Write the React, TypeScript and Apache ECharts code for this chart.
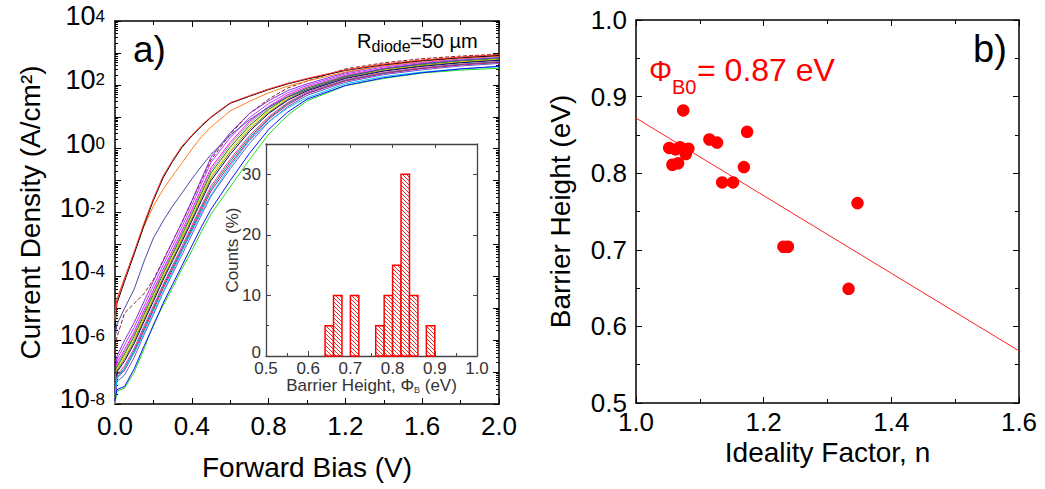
import React, { useEffect, useRef } from 'react';
import * as echarts from 'echarts';

const FONT = '"Liberation Sans", Arial, Helvetica, sans-serif';

// ---------- Panel a: J-V curves (log10 of J in A/cm^2 at each bias) ----------
const biasV = [0, 0.01, 0.05, 0.1, 0.15, 0.2, 0.25, 0.3, 0.35, 0.4, 0.45, 0.5, 0.6, 0.7, 0.8, 0.9, 1.0, 1.2, 1.4, 1.6, 1.8, 2.0];

const logJRed = [-5.4, -4.75, -4.07, -3.23, -2.35, -1.56, -0.86, -0.36, 0.09, 0.42, 0.73, 1.0, 1.44, 1.66, 1.87, 2.05, 2.2, 2.47, 2.65, 2.78, 2.87, 2.95];
const logJBlack = [-5.6, -4.85, -4.15, -3.3, -2.42, -1.62, -0.92, -0.4, 0.05, 0.4, 0.7, 0.98, 1.42, 1.64, 1.85, 2.03, 2.18, 2.45, 2.63, 2.76, 2.85, 2.92];
const logJOrange = [-5.3, -4.7, -4.05, -3.25, -2.45, -1.8, -1.28, -0.85, -0.44, -0.02, 0.37, 0.68, 1.18, 1.48, 1.75, 1.96, 2.12, 2.4, 2.6, 2.73, 2.83, 2.9];
const logJSlate = [-6.0, -5.5, -5.0, -4.4, -3.55, -2.8, -2.27, -1.8, -1.38, -0.95, -0.55, -0.18, 0.42, 0.9, 1.3, 1.62, 1.85, 2.25, 2.5, 2.66, 2.77, 2.85];
const logJBrown = [-6.4, -5.9, -5.15, -4.85, -4.55, -4.1, -3.5, -2.9, -2.3, -1.65, -1.0, -0.35, 0.45, 1.1, 1.55, 1.9, 2.12, 2.5, 2.69, 2.82, 2.9, 2.96];
const logJPurple = [-8.0, -6.5, -6.0, -5.45, -4.8, -4.15, -3.53, -2.91, -2.29, -1.63, -0.95, -0.27, 0.5, 1.1, 1.5, 1.82, 2.03, 2.38, 2.6, 2.74, 2.84, 2.92];
const logJViolet = [-7.6, -6.6, -6.15, -5.6, -4.95, -4.3, -3.66, -3.05, -2.43, -1.77, -1.1, -0.43, 0.35, 0.97, 1.41, 1.75, 1.98, 2.34, 2.56, 2.7, 2.81, 2.89];
const logJMagenta = [-8.0, -6.7, -6.3, -5.74, -5.08, -4.43, -3.79, -3.18, -2.56, -1.91, -1.25, -0.6, 0.2, 0.85, 1.32, 1.69, 1.93, 2.3, 2.52, 2.67, 2.77, 2.85];
const logJGray = [-7.4, -6.8, -6.36, -5.81, -5.15, -4.5, -3.86, -3.25, -2.63, -1.98, -1.33, -0.68, 0.13, 0.79, 1.28, 1.65, 1.91, 2.28, 2.5, 2.65, 2.76, 2.84];
const logJDarkGreen = [-7.5, -6.85, -6.43, -5.88, -5.22, -4.57, -3.93, -3.31, -2.7, -2.06, -1.4, -0.76, 0.05, 0.72, 1.23, 1.62, 1.89, 2.26, 2.49, 2.63, 2.74, 2.82];
const logJYellow = [-7.8, -6.9, -6.5, -5.96, -5.29, -4.64, -4.0, -3.38, -2.77, -2.13, -1.48, -0.84, -0.03, 0.66, 1.19, 1.59, 1.86, 2.24, 2.47, 2.61, 2.72, 2.8];
const logJOlive = [-8.0, -6.95, -6.58, -6.03, -5.36, -4.71, -4.06, -3.45, -2.83, -2.2, -1.55, -0.92, -0.1, 0.6, 1.14, 1.55, 1.84, 2.22, 2.45, 2.6, 2.7, 2.78];
const logJNavy = [-7.7, -7.0, -6.65, -6.1, -5.43, -4.78, -4.12, -3.51, -2.9, -2.27, -1.63, -1.0, -0.18, 0.54, 1.1, 1.52, 1.81, 2.2, 2.43, 2.58, 2.69, 2.77];
const logJPink = [-8.0, -7.1, -6.8, -6.25, -5.57, -4.92, -4.26, -3.65, -3.04, -2.41, -1.78, -1.17, -0.33, 0.41, 1.0, 1.45, 1.77, 2.16, 2.39, 2.54, 2.65, 2.73];
const logJTeal = [-7.9, -7.15, -6.87, -6.32, -5.64, -4.99, -4.32, -3.71, -3.11, -2.48, -1.85, -1.25, -0.4, 0.35, 0.96, 1.42, 1.74, 2.14, 2.37, 2.52, 2.64, 2.72];
const logJDeepPink = [-7.6, -7.2, -6.94, -6.39, -5.71, -5.06, -4.39, -3.78, -3.17, -2.55, -1.93, -1.33, -0.48, 0.29, 0.92, 1.38, 1.72, 2.12, 2.35, 2.51, 2.62, 2.7];
const logJSlateViolet = [-8.0, -7.3, -7.09, -6.54, -5.85, -5.2, -4.52, -3.92, -3.31, -2.7, -2.08, -1.49, -0.63, 0.16, 0.83, 1.32, 1.67, 2.08, 2.32, 2.47, 2.59, 2.67];
const logJCyan = [-7.7, -7.2, -6.9, -6.4, -5.8, -5.15, -4.5, -3.85, -3.2, -2.6, -2.0, -1.45, -0.55, 0.25, 0.85, 1.28, 1.6, 2.03, 2.26, 2.4, 2.5, 2.57];
const logJGreen = [-8.0, -7.6, -7.5, -7.0, -6.3, -5.5, -4.92, -4.35, -3.75, -3.2, -2.6, -2.05, -1.2, -0.35, 0.45, 1.05, 1.5, 1.97, 2.2, 2.37, 2.46, 2.52];
const logJBlue = [-7.9, -7.55, -7.45, -6.9, -6.2, -5.55, -4.85, -4.25, -3.65, -3.05, -2.45, -1.9, -1.0, -0.15, 0.6, 1.15, 1.55, 1.98, 2.22, 2.38, 2.5, 2.58];

const curveList = [
  { name: 'D01', color: '#8c1c1c', values: logJBrown, dashed: true },
  { name: 'D02', color: '#8a2be2', values: logJPurple },
  { name: 'D03', color: '#b040ff', values: logJViolet },
  { name: 'D04', color: '#ff00ff', values: logJMagenta },
  { name: 'D05', color: '#9a9a9a', values: logJGray },
  { name: 'D06', color: '#1a7a1a', values: logJDarkGreen },
  { name: 'D07', color: '#e8dc00', values: logJYellow },
  { name: 'D08', color: '#8a8a00', values: logJOlive },
  { name: 'D09', color: '#000080', values: logJNavy },
  { name: 'D10', color: '#ff3c9a', values: logJPink },
  { name: 'D11', color: '#008b8b', values: logJTeal },
  { name: 'D12', color: '#d0107a', values: logJDeepPink },
  { name: 'D13', color: '#6a5acd', values: logJSlateViolet },
  { name: 'D14', color: '#00c8ff', values: logJCyan },
  { name: 'D15', color: '#22dd22', values: logJGreen },
  { name: 'D16', color: '#1010ff', values: logJBlue },
  { name: 'D17', color: '#4a4aa8', values: logJSlate },
  { name: 'D18', color: '#ff7f1e', values: logJOrange },
  { name: 'D19', color: '#000000', values: logJBlack },
  { name: 'D20', color: '#ff3030', values: logJRed },
];

// ---------- Inset histogram ----------
const binStarts = [0.64, 0.66, 0.70, 0.76, 0.78, 0.80, 0.82, 0.84, 0.88];
const binCounts = [5, 10, 10, 5, 10, 15, 30, 10, 5];
const binWidth = 0.02;

// ---------- Panel b ----------
const idealityN = [1.052, 1.057, 1.066, 1.069, 1.074, 1.062, 1.078, 1.082, 1.115, 1.127, 1.174, 1.169, 1.135, 1.152, 1.347, 1.231, 1.238, 1.333];
const barrierEv = [0.833, 0.811, 0.813, 0.834, 0.882, 0.831, 0.825, 0.832, 0.844, 0.840, 0.854, 0.808, 0.788, 0.788, 0.761, 0.704, 0.704, 0.649];
const fitN = [1.0, 1.6];
const fitPhi = [0.872, 0.568];

// sub-decade multipliers for the log-axis minor ticks
const subDecadeMultipliers = [2, 3, 4, 5, 6, 7, 8, 9];

export default function App() {
  const ref = useRef<HTMLDivElement>(null);

  useEffect(() => {
    if (!ref.current) return;
    const chart = echarts.init(ref.current, undefined, { renderer: 'svg' });

    // hatch pattern for histogram bars
    const tile = document.createElement('canvas');
    tile.width = 4;
    tile.height = 4;
    const ctx = tile.getContext('2d')!;
    ctx.fillStyle = '#ffffff';
    ctx.fillRect(0, 0, 4, 4);
    ctx.strokeStyle = 'rgba(255,30,30,0.95)';
    ctx.lineWidth = 1;
    for (const k of [-4, 0, 4]) {
      ctx.beginPath();
      ctx.moveTo(k, 0);
      ctx.lineTo(k + 4, 4);
      ctx.stroke();
    }
    const hatch = { image: tile.toDataURL(), imageWidth: 4, imageHeight: 4, repeat: 'repeat' };

    const minorDecades: number[] = [];
    for (let d = -8; d < 4; d++) {
      for (const m of subDecadeMultipliers) minorDecades.push(d + Math.log10(m));
    }

    const blackLine = { show: true, onZero: false, lineStyle: { color: '#000', width: 1.5 } };
    const grayLine = { show: true, onZero: false, lineStyle: { color: '#444', width: 1.3 } };
    const noLine = { show: false, onZero: false };
    const tick = (len: number, color = '#000', custom?: number[]) => ({
      show: true, inside: true, length: len, lineStyle: { color, width: 1 },
      ...(custom ? { customValues: custom } : {}),
    });
    const minor = (len: number, color = '#000') => ({ show: true, splitNumber: 2, length: len, lineStyle: { color, width: 1 } });
    const bigLabel = { fontSize: 26, color: '#000', fontFamily: FONT, formatter: (v: number) => v.toFixed(1) };
    const smallLabel = { fontSize: 17, color: '#333', fontFamily: FONT };
    const nameStyle = { fontSize: 28, color: '#000', fontFamily: FONT };

    const decadeLabel = {
      margin: 10, color: '#000', fontFamily: FONT,
      formatter: (v: number) => {
        const e = Math.round(v);
        return e % 2 === 0 ? `{b|10}{e|${e}}` : '';
      },
      rich: {
        b: { fontSize: 27, lineHeight: 27, fontFamily: FONT, color: '#000', verticalAlign: 'bottom', padding: [0, 0, 5, 0] },
        e: { fontSize: 17, lineHeight: 17, fontFamily: FONT, color: '#000', verticalAlign: 'top', padding: [0, 0, 24, 0] },
      },
    };

    const option: any = {
      animation: false,
      backgroundColor: '#ffffff',
      grid: [
        { left: 115, top: 21, width: 384, height: 383, containLabel: false, outerBoundsMode: 'none' },
        { left: 266, top: 144, width: 211, height: 212, containLabel: false, outerBoundsMode: 'none', show: true, backgroundColor: '#ffffff', borderWidth: 0, z: 5 },
        { left: 636, top: 20, width: 383, height: 383, containLabel: false, outerBoundsMode: 'none' },
      ],
      xAxis: [
        {
          type: 'value', gridIndex: 0, position: 'bottom', min: 0, max: 2, interval: 0.4,
          axisLine: blackLine, axisTick: tick(6), minorTick: minor(4), splitLine: { show: false },
          axisLabel: { ...bigLabel, margin: 9 },
          name: 'Forward Bias (V)', nameLocation: 'middle', nameGap: 49, nameMoveOverlap: false, nameTextStyle: nameStyle,
        },
        {
          type: 'value', gridIndex: 0, position: 'top', min: 0, max: 2, interval: 0.4,
          axisLine: blackLine, axisTick: tick(6), minorTick: minor(4), splitLine: { show: false },
          axisLabel: { show: false },
        },
        {
          type: 'value', gridIndex: 1, position: 'bottom', min: 0.5, max: 1.0, interval: 0.1, z: 6,
          axisLine: grayLine, axisTick: tick(5, '#444'), minorTick: minor(3, '#444'), splitLine: { show: false },
          axisLabel: { ...smallLabel, margin: 4, formatter: (v: number) => v.toFixed(1) },
          name: '{a|Barrier Height, Φ}{s|B}{a| (eV)}', nameLocation: 'middle', nameGap: 21, nameMoveOverlap: false,
          nameTextStyle: {
            ...smallLabel,
            rich: {
              a: { fontSize: 17, color: '#333', fontFamily: FONT, lineHeight: 17 },
              s: { fontSize: 9, color: '#333', fontFamily: FONT, lineHeight: 9, padding: [8, 0, 0, 0], verticalAlign: 'bottom' },
            },
          },
        },
        {
          type: 'value', gridIndex: 1, position: 'top', min: 0.5, max: 1.0, interval: 0.1, z: 6,
          axisLine: grayLine, axisTick: tick(4, '#444'), splitLine: { show: false }, axisLabel: { show: false },
        },
        {
          type: 'value', gridIndex: 2, position: 'bottom', min: 1.0, max: 1.6, interval: 0.2,
          axisLine: blackLine, axisTick: tick(6), minorTick: minor(4), splitLine: { show: false },
          axisLabel: { ...bigLabel, margin: 6 },
          name: 'Ideality Factor, n', nameLocation: 'middle', nameGap: 35, nameMoveOverlap: false, nameTextStyle: nameStyle,
        },
        {
          type: 'value', gridIndex: 2, position: 'top', min: 1.0, max: 1.6, interval: 0.2,
          axisLine: blackLine, axisTick: tick(6), minorTick: minor(4), splitLine: { show: false },
          axisLabel: { show: false },
        },
      ],
      yAxis: [
        // 0: log axis that carries the J-V data
        {
          type: 'log', logBase: 10, gridIndex: 0, position: 'left', min: 1e-8, max: 1e4,
          axisLine: blackLine, axisTick: { show: false }, axisLabel: { show: false }, splitLine: { show: false },
        },
        // 1: decade ticks + labels (exponent scale of the same axis)
        {
          type: 'value', gridIndex: 0, position: 'left', min: -8, max: 4, interval: 1,
          axisLine: noLine, axisTick: tick(6), splitLine: { show: false },
          axisLabel: decadeLabel,
          name: 'Current Density (A/cm²)', nameLocation: 'middle', nameRotate: 90, nameGap: 71, nameMoveOverlap: false, nameTextStyle: nameStyle,
        },
        // 2: sub-decade ticks
        {
          type: 'value', gridIndex: 0, position: 'left', min: -8, max: 4,
          axisLine: noLine, axisTick: tick(3, '#000', minorDecades), axisLabel: { show: false }, splitLine: { show: false },
        },
        // 3-4: right mirror
        {
          type: 'value', gridIndex: 0, position: 'right', min: -8, max: 4, interval: 1,
          axisLine: blackLine, axisTick: tick(6), axisLabel: { show: false }, splitLine: { show: false },
        },
        {
          type: 'value', gridIndex: 0, position: 'right', min: -8, max: 4,
          axisLine: noLine, axisTick: tick(3, '#000', minorDecades), axisLabel: { show: false }, splitLine: { show: false },
        },
        // 5-7: inset
        {
          type: 'value', gridIndex: 1, position: 'left', min: 0, max: 35, interval: 10, z: 6,
          axisLine: grayLine, axisTick: tick(5, '#444', [0, 10, 20, 30]), splitLine: { show: false },
          axisLabel: {
            ...smallLabel, margin: 5, showMaxLabel: false,
            formatter: (v: number) => (v > 30 ? '' : v === 0 ? '{z|0}' : String(v)),
            rich: { z: { fontSize: 17, color: '#333', fontFamily: FONT, padding: [0, 0, 8, 0] } },
          },
          name: 'Counts (%)', nameLocation: 'middle', nameRotate: 90, nameGap: 25, nameMoveOverlap: false,
          nameTextStyle: { ...smallLabel },
        },
        {
          type: 'value', gridIndex: 1, position: 'left', min: 0, max: 35, z: 6,
          axisLine: noLine, axisTick: tick(3, '#444', [5, 15, 25]), splitLine: { show: false }, axisLabel: { show: false },
        },
        {
          type: 'value', gridIndex: 1, position: 'right', min: 0, max: 35, z: 6,
          axisLine: grayLine, axisTick: tick(4, '#444', [10, 20, 30]), splitLine: { show: false }, axisLabel: { show: false },
        },
        // 8-9: panel b
        {
          type: 'value', gridIndex: 2, position: 'left', min: 0.5, max: 1.0, interval: 0.1,
          axisLine: blackLine, axisTick: tick(6), minorTick: minor(4), splitLine: { show: false },
          axisLabel: { ...bigLabel, margin: 9 },
          name: 'Barrier Height (eV)', nameLocation: 'middle', nameRotate: 90, nameGap: 62, nameMoveOverlap: false, nameTextStyle: nameStyle,
        },
        {
          type: 'value', gridIndex: 2, position: 'right', min: 0.5, max: 1.0, interval: 0.1,
          axisLine: blackLine, axisTick: tick(6), minorTick: minor(4), splitLine: { show: false },
          axisLabel: { show: false },
        },
      ],
      series: [
        ...curveList.map((c) => ({
          type: 'line', name: c.name, xAxisIndex: 0, yAxisIndex: 0,
          data: biasV.map((v, i) => [v, Math.pow(10, c.values[i])]),
          showSymbol: false, symbol: 'none', z: 2,
          lineStyle: { color: c.color, width: 1, type: c.dashed ? [4, 2] : 'solid' },
          emphasis: { disabled: true },
        })),
        {
          type: 'custom', name: 'Histogram', xAxisIndex: 2, yAxisIndex: 5, z: 7,
          data: binStarts.map((b, i) => [b, b + binWidth, binCounts[i]]),
          encode: { x: [0, 1], y: 2 },
          renderItem: (_p: any, api: any) => {
            const p0 = api.coord([api.value(0), api.value(2)]);
            const p1 = api.coord([api.value(1), 0]);
            return {
              type: 'rect',
              shape: { x: p0[0], y: p0[1], width: p1[0] - p0[0], height: p1[1] - p0[1] },
              style: { fill: hatch, stroke: '#ff0000', lineWidth: 1.5 },
            };
          },
        },
        {
          type: 'line', name: 'Fit', xAxisIndex: 4, yAxisIndex: 8,
          data: fitN.map((n, i) => [n, fitPhi[i]]),
          showSymbol: false, symbol: 'none', lineStyle: { color: '#ff2020', width: 1 }, z: 2,
        },
        {
          type: 'scatter', name: 'Diodes', xAxisIndex: 4, yAxisIndex: 8,
          data: idealityN.map((n, i) => [n, barrierEv[i]]),
          symbol: 'circle', symbolSize: 12.5, itemStyle: { color: '#ff0000', opacity: 1 }, z: 3,
        },
      ],
      graphic: [
        { type: 'text', x: 133, y: 49, z: 10, style: { text: 'a)', fontSize: 37, fontFamily: FONT, fill: '#000', align: 'left', verticalAlign: 'middle', textAlign: 'left', textVerticalAlign: 'middle' } },
        { type: 'text', x: 357, y: 41.4, z: 10, style: { text: 'R', fontSize: 20, fontFamily: FONT, fill: '#000', align: 'left', verticalAlign: 'middle', textAlign: 'left', textVerticalAlign: 'middle' } },
        { type: 'text', x: 371.5, y: 46.5, z: 10, style: { text: 'diode', fontSize: 16, fontFamily: FONT, fill: '#000', align: 'left', verticalAlign: 'middle', textAlign: 'left', textVerticalAlign: 'middle' } },
        { type: 'text', x: 410, y: 41.4, z: 10, style: { text: '=50 µm', fontSize: 20, fontFamily: FONT, fill: '#000', align: 'left', verticalAlign: 'middle', textAlign: 'left', textVerticalAlign: 'middle' } },
        { type: 'text', x: 973, y: 49, z: 10, style: { text: 'b)', fontSize: 38, fontFamily: FONT, fill: '#000', align: 'left', verticalAlign: 'middle', textAlign: 'left', textVerticalAlign: 'middle' } },
        { type: 'text', x: 649, y: 71, z: 10, style: { text: 'Φ', fontSize: 29, fontFamily: FONT, fill: '#ff0000', align: 'left', verticalAlign: 'middle', textAlign: 'left', textVerticalAlign: 'middle' } },
        { type: 'text', x: 672, y: 87, z: 10, style: { text: 'B0', fontSize: 20, fontFamily: FONT, fill: '#ff0000', align: 'left', verticalAlign: 'middle', textAlign: 'left', textVerticalAlign: 'middle' } },
        { type: 'text', x: 697, y: 70, z: 10, style: { text: '= 0.87 eV', fontSize: 32, fontFamily: FONT, fill: '#ff0000', align: 'left', verticalAlign: 'middle', textAlign: 'left', textVerticalAlign: 'middle' } },
      ],
    };

    chart.setOption(option);
    return () => chart.dispose();
  }, []);

  return (
    <div
      ref={ref}
      style={{ position: 'fixed', left: 0, top: 0, width: 1045, height: 489, background: '#fff' }}
    />
  );
}
